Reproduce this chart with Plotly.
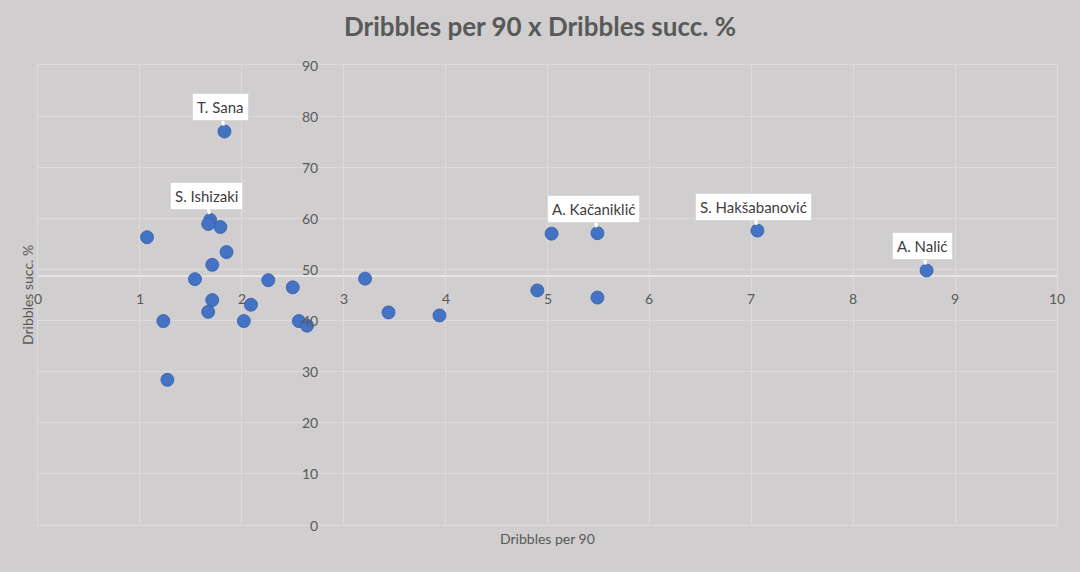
"""Scatter of dribbles per 90 against dribble success rate."""

import plotly.graph_objects as go

# values
dribbles_per_90 = [
    1.83, 1.69, 1.67, 1.79, 1.07, 1.85, 1.71, 1.54, 2.26, 2.50,
    3.21, 1.71, 2.09, 1.67, 1.23, 2.02, 2.56, 2.64, 1.27, 3.44,
    3.94, 4.90, 5.04, 5.49, 5.49, 7.06, 8.72,
]
dribbles_succ = [
    77.0, 59.7, 58.9, 58.3, 56.3, 53.4, 50.9, 48.1, 47.9, 46.5,
    48.2, 44.0, 43.1, 41.7, 39.9, 39.9, 39.9, 39.0, 28.4, 41.6,
    41.0, 45.9, 57.0, 57.1, 44.5, 57.6, 49.8,
]
player_labels = [
    "T. Sana", "S. Ishizaki", "", "", "", "", "", "", "", "",
    "", "", "", "", "", "", "", "", "", "",
    "", "", "", "A. Kačaniklić", "", "S. Hakšabanović", "A. Nalić",
]

x_ticks = list(range(0, 11))
y_ticks = list(range(0, 91, 10))

BG = "#D0CECE"
GRID = "#DDDBDB"
TEXT = "#595959"
FONT = "Lato"

# the axes cross at the means, like the Excel original
x_cross = sum(dribbles_per_90) / len(dribbles_per_90)
y_cross = sum(dribbles_succ) / len(dribbles_succ)

fig = go.Figure()

fig.add_trace(
    go.Scatter(
        x=dribbles_per_90,
        y=dribbles_succ,
        mode="markers",
        marker={"size": 13, "color": "#4472C4", "line": {"width": 0.8, "color": "#345EA8"}},
        hovertemplate="%{x}<br>%{y}<extra></extra>",
    )
)

# horizontal axis line through the y mean
fig.add_shape(
    type="line", xref="paper", yref="y", x0=0, x1=1, y0=y_cross, y1=y_cross,
    line={"color": "#E6E4E4", "width": 2}, layer="below",
)

annotations = []

# tick labels next to the crossing axes
for t in x_ticks:
    annotations.append(
        {"x": t, "y": y_cross, "xref": "x", "yref": "y", "text": str(t), "showarrow": False,
         "yanchor": "top", "yshift": -12, "font": {"family": FONT, "size": 14, "color": TEXT}}
    )
for t in y_ticks:
    annotations.append(
        {"x": x_cross, "y": t, "xref": "x", "yref": "y", "text": str(t), "showarrow": False,
         "xanchor": "right", "xshift": -21, "font": {"family": FONT, "size": 14, "color": TEXT}}
    )

# axis titles
annotations.append(
    {"x": 0.5, "y": 0, "xref": "paper", "yref": "paper", "text": "Dribbles per 90", "showarrow": False,
     "yanchor": "middle", "yshift": -13, "font": {"family": FONT, "size": 14, "color": TEXT}}
)
annotations.append(
    {"x": 0, "y": 0.5, "xref": "paper", "yref": "paper", "text": "Dribbles succ. %", "showarrow": False,
     "xanchor": "center", "xshift": -11, "textangle": -90, "font": {"family": FONT, "size": 14, "color": TEXT}}
)

# player call-outs
for x, y, name in zip(dribbles_per_90, dribbles_succ, player_labels):
    if not name:
        continue
    annotations.append(
        {"x": x, "y": y, "xref": "x", "yref": "y", "text": name, "showarrow": True,
         "arrowhead": 0, "arrowwidth": 3, "arrowcolor": "white", "ax": -4, "ay": -24, "standoff": 6,
         "bgcolor": "white", "bordercolor": "#D9D9D9", "borderwidth": 1, "borderpad": 4,
         "font": {"family": FONT, "size": 15, "color": "#404040"}}
    )

fig.update_layout(
    width=1080,
    height=572,
    margin={"l": 38, "r": 23, "t": 65, "b": 47},
    paper_bgcolor=BG,
    plot_bgcolor=BG,
    showlegend=False,
    title={
        "text": "<b>Dribbles per 90 x Dribbles succ. %</b>",
        "x": 0.5, "xanchor": "center", "y": 0.953, "yanchor": "middle",
        "font": {"family": FONT, "size": 26, "color": TEXT},
    },
    xaxis={
        "range": [0, 10], "dtick": 1, "showticklabels": False, "ticks": "",
        "gridcolor": GRID, "gridwidth": 1, "zeroline": False,
        "showline": True, "linecolor": GRID, "mirror": True,
    },
    yaxis={
        "range": [0, 90], "dtick": 10, "showticklabels": False, "ticks": "",
        "gridcolor": GRID, "gridwidth": 1, "zeroline": False,
        "showline": True, "linecolor": GRID, "mirror": True,
    },
    annotations=annotations,
)

# drop the page's default body margin so the chart sits at the window's corner
fig.write_html(
    "out.html",
    config={"displayModeBar": False},
    post_script="document.body.style.margin='0';document.body.style.background='#D0CECE';",
)
